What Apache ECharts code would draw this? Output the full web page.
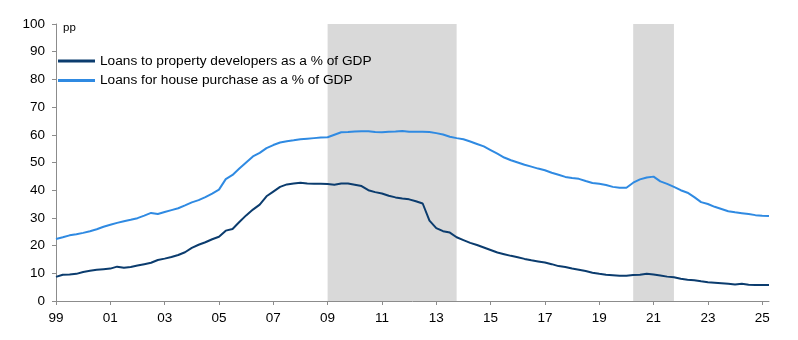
<!DOCTYPE html>
<html>
<head>
<meta charset="utf-8">
<script src="https://cdn.jsdelivr.net/npm/echarts@6/dist/echarts.min.js"></script>
<style>html,body{margin:0;padding:0;background:#fff}#c{width:798px;height:340px}</style>
</head>
<body>
<div id="c"></div>
<script>
// Quarters 1999Q1 .. 2025Q2
const startYear = 1999, endYear = 2025, lastQuarter = 2;
const quarters = [];
for (let y = startYear; y <= endYear; y++) {
  for (let q = 1; q <= 4; q++) {
    if (y === endYear && q > lastQuarter) break;
    quarters.push(y + 'Q' + q);
  }
}
const seriesNames = ['Loans to property developers as a % of GDP', 'Loans for house purchase as a % of GDP'];
const developers = [
  8.7, 9.5, 9.6, 9.8,
  10.5, 10.9, 11.3, 11.5,
  11.7, 12.4, 12.0, 12.3,
  12.8, 13.3, 13.8, 14.8,
  15.3, 15.9, 16.6, 17.6,
  19.2, 20.3, 21.2, 22.3,
  23.2, 25.4, 26.0, 28.5,
  30.9, 33.0, 34.8, 37.8,
  39.5, 41.2, 42.1, 42.4,
  42.7, 42.4, 42.3, 42.3,
  42.2, 42.0, 42.4, 42.4,
  42.0, 41.5, 40.0, 39.3,
  38.8, 38.0, 37.4, 37.0,
  36.7, 36.0, 35.2, 29.0,
  26.3, 25.2, 24.7, 23.0,
  22.0, 21.0, 20.2, 19.3,
  18.4, 17.5, 16.9, 16.3,
  15.8, 15.2, 14.7, 14.3,
  13.9, 13.3, 12.6, 12.3,
  11.7, 11.3, 10.8, 10.2,
  9.8, 9.5, 9.3, 9.1,
  9.1, 9.4, 9.5, 9.8,
  9.6, 9.2, 8.8, 8.6,
  8.0, 7.7, 7.5, 7.1,
  6.8, 6.6, 6.4, 6.2,
  6.0, 6.2, 5.9, 5.8,
  5.8, 5.8
];
const housePurchase = [
  22.4, 23.0, 23.7, 24.1,
  24.6, 25.2, 25.9, 26.8,
  27.5, 28.2, 28.8, 29.3,
  29.9, 30.8, 31.8, 31.4,
  32.1, 32.8, 33.5, 34.5,
  35.6, 36.4, 37.5, 38.8,
  40.2, 44.0, 45.5, 47.8,
  50.0, 52.2, 53.5, 55.2,
  56.3, 57.2, 57.7, 58.0,
  58.4, 58.6, 58.8, 59.0,
  59.1, 60.0, 60.9, 61.0,
  61.2, 61.3, 61.3, 61.0,
  60.9, 61.1, 61.2, 61.4,
  61.1, 61.1, 61.1, 61.0,
  60.6, 60.1, 59.3, 58.8,
  58.4, 57.6, 56.7, 55.8,
  54.5, 53.2, 51.8, 50.8,
  50.0, 49.2, 48.5, 47.8,
  47.2, 46.3, 45.6, 44.8,
  44.4, 44.1, 43.3, 42.6,
  42.3, 41.9, 41.2, 40.9,
  40.9, 42.7, 43.9, 44.6,
  44.9, 43.2, 42.3, 41.2,
  40.0, 39.1, 37.5, 35.7,
  35.0, 34.0, 33.2, 32.4,
  32.0, 31.7, 31.4, 31.0,
  30.8, 30.7
];
const shadedPeriods = [['2009Q1', '2013Q4'], ['2020Q2', '2021Q4']];
const yTicks = [0, 10, 20, 30, 40, 50, 60, 70, 80, 90, 100];
const unitLabel = 'pp';

const FONT = '"Liberation Sans", Arial, Helvetica, sans-serif';
const chart = echarts.init(document.getElementById('c'));
chart.setOption({
  animation: false,
  backgroundColor: '#ffffff',
  textStyle: { fontFamily: FONT },
  grid: { left: 56, right: 29, top: 24, bottom: 39 },
  graphic: [{
    type: 'text', left: 63, top: 22,
    style: { text: unitLabel, font: '11.5px ' + FONT, fill: '#000' }
  }],
  legend: {
    orient: 'vertical', left: 58, top: 54, padding: 0,
    itemWidth: 37, itemHeight: 3, itemGap: 5.5,
    icon: 'rect',
    textStyle: { fontFamily: FONT, fontSize: 13.7, color: '#000' },
    data: seriesNames
  },
  xAxis: {
    type: 'category', data: quarters, boundaryGap: false,
    axisLine: { lineStyle: { color: '#8c8c8c', width: 1 } },
    axisTick: { show: true, interval: 7, length: 4, lineStyle: { color: '#8c8c8c' } },
    axisLabel: {
      interval: 7, color: '#000', fontSize: 13.5, fontFamily: FONT, margin: 10,
      formatter: v => v.slice(2, 4)
    },
    splitLine: { show: false }
  },
  yAxis: {
    type: 'value', min: yTicks[0], max: yTicks[yTicks.length - 1], interval: 10,
    axisLine: { show: true, lineStyle: { color: '#8c8c8c', width: 1 } },
    axisTick: { show: true, length: 4, lineStyle: { color: '#8c8c8c' } },
    axisLabel: { color: '#000', fontSize: 13.5, fontFamily: FONT, margin: 11 },
    splitLine: { show: false }
  },
  series: [
    {
      name: seriesNames[0], type: 'line', data: developers, symbol: 'none',
      lineStyle: { color: '#0b3c6e', width: 2 }, itemStyle: { color: '#0b3c6e' }, z: 3,
      markArea: {
        silent: true,
        itemStyle: { color: '#d9d9d9' },
        data: shadedPeriods.map(p => [{ xAxis: p[0] }, { xAxis: p[1] }])
      }
    },
    {
      name: seriesNames[1], type: 'line', data: housePurchase, symbol: 'none',
      lineStyle: { color: '#2f8ae2', width: 2 }, itemStyle: { color: '#2f8ae2' }, z: 3
    }
  ]
});
</script>
</body>
</html>
